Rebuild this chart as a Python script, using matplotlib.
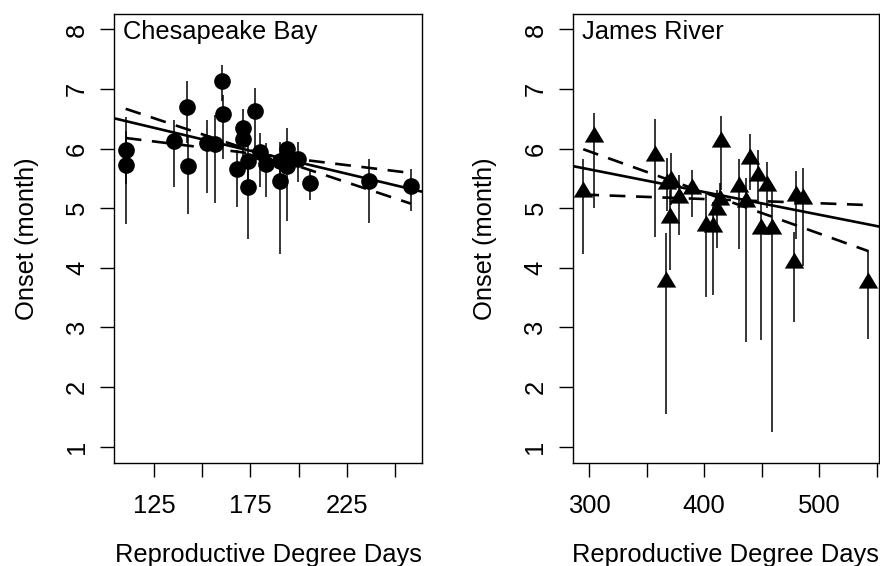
import matplotlib
matplotlib.use("Agg")
import matplotlib.pyplot as plt

plt.rcParams['font.family'] = ['Liberation Sans', 'DejaVu Sans']
plt.rcParams['font.size'] = 18.4

# Chesapeake Bay: degree days, onset month, error bar limits
cb_x = [110.3, 110.3, 135.4, 142.0, 142.8, 152.3, 156.6, 160.5, 160.6, 168.2,
        171.3, 171.3, 173.9, 173.9, 177.4, 180.0, 183.2, 190.4, 190.4, 193.8,
        193.8, 199.9, 205.9, 236.5, 258.3]
cb_y = [5.97, 5.72, 6.13, 6.70, 5.71, 6.09, 6.07, 7.14, 6.59, 5.66,
        6.34, 6.17, 5.79, 5.35, 6.63, 5.95, 5.74, 5.79, 5.46, 6.00,
        5.71, 5.83, 5.43, 5.45, 5.38]
cb_lo = [5.40, 4.73, 5.36, 6.10, 4.91, 5.25, 5.09, 6.80, 5.83, 5.02,
         6.00, 5.80, 5.40, 4.48, 6.00, 5.36, 5.19, 5.50, 4.24, 5.60,
         4.78, 5.44, 5.14, 4.76, 4.96]
cb_hi = [6.53, 6.30, 6.48, 7.13, 6.20, 6.48, 6.56, 7.41, 6.90, 5.97,
         6.67, 6.40, 6.10, 5.70, 7.01, 6.26, 6.09, 6.11, 5.80, 6.35,
         6.00, 6.11, 5.66, 5.82, 5.66]
# fitted line and slope bounds (intercept, slope)
cb_fit = (7.314, -0.00771)
cb_steep = (7.856, -0.01076)
cb_flat = (6.617, -0.00397)

# James River
jr_x = [295.0, 304.3, 357.0, 366.9, 367.5, 370.0, 371.2, 378.5, 389.2, 401.8,
        407.5, 411.2, 413.8, 414.7, 430.3, 436.7, 439.9, 447.1, 449.2, 454.4,
        459.1, 478.3, 479.8, 486.0, 542.7]
jr_y = [5.32, 6.24, 5.92, 3.82, 5.45, 4.88, 5.50, 5.22, 5.37, 4.75,
        4.73, 5.02, 5.19, 6.16, 5.40, 5.15, 5.88, 5.60, 4.71, 5.43,
        4.71, 4.13, 5.26, 5.20, 3.80]
jr_lo = [4.23, 5.00, 4.52, 1.55, 4.95, 3.96, 5.05, 4.55, 4.85, 3.51,
         3.55, 4.33, 4.90, 5.30, 4.31, 2.75, 5.30, 5.10, 2.79, 5.00,
         1.25, 3.09, 4.49, 4.03, 2.81]
jr_hi = [5.82, 6.60, 6.49, 4.58, 5.85, 5.30, 5.92, 5.55, 5.64, 5.25,
         5.10, 5.30, 5.43, 6.55, 5.82, 5.50, 6.25, 5.97, 5.10, 5.77,
         5.40, 4.60, 5.62, 5.67, 4.30]
jr_fit = (6.797, -0.00381)
jr_steep = (8.026, -0.0069)
jr_flat = (5.439, -0.00071)

y_ticks = [1, 2, 3, 4, 5, 6, 7, 8]
cb_xticks = [125, 150, 175, 200, 225, 250]
cb_xlabels = ['125', '', '175', '', '225', '']
jr_xticks = [300, 350, 400, 450, 500, 550]
jr_xlabels = ['300', '', '400', '', '500', '']

tri = [(0, 0.833), (-1, -0.833), (1, -0.833), (0, 0.833)]


def panel(ax, x, y, lo, hi, fit, steep, flat, marker, ms, title,
          xticks, xlabels, xlim):
    ax.vlines(x, lo, hi, color='black', lw=1.1, zorder=2)
    ax.plot(x, y, linestyle='none', marker=marker, ms=ms, color='black',
            markeredgewidth=0, zorder=3)
    ax.axline((0, fit[0]), slope=fit[1], color='black', lw=1.9, zorder=4)
    xs = [min(x), max(x)]
    for b in (steep, flat):
        ax.plot(xs, [b[0] + b[1] * v for v in xs], color='black', lw=1.9,
                linestyle=(0, (6, 4)), zorder=4)
    ax.set_xlim(xlim)
    ax.set_ylim(0.72, 8.26)
    ax.set_xticks(xticks)
    ax.set_xticklabels(xlabels)
    ax.set_yticks(y_ticks)
    for lab in ax.get_yticklabels():
        lab.set_rotation(90)
        lab.set_va('center')
    ax.tick_params(length=10, width=1.0)
    ax.tick_params(axis='x', pad=12)
    ax.tick_params(axis='y', pad=8)
    for s in ax.spines.values():
        s.set_linewidth(1.0)
    ax.set_xlabel('Reproductive Degree Days', labelpad=18)
    ax.set_ylabel('Onset (month)', labelpad=19)
    ax.text(0.03, 0.987, title, transform=ax.transAxes, ha='left', va='top')


fig = plt.figure(figsize=(8.8, 5.66), dpi=100)
ax1 = fig.add_axes([114 / 880, 1 - 463.3 / 566, 308 / 880, 449.3 / 566])
ax2 = fig.add_axes([572.5 / 880, 1 - 463.3 / 566, 306 / 880, 449.3 / 566])

panel(ax1, cb_x, cb_y, cb_lo, cb_hi, cb_fit, cb_steep, cb_flat, 'o', 12,
      'Chesapeake Bay', cb_xticks, cb_xlabels, (104.25, 264.0))
panel(ax2, jr_x, jr_y, jr_lo, jr_hi, jr_fit, jr_steep, jr_flat, tri, 14,
      'James River', jr_xticks, jr_xlabels, (285.66, 551.6))

fig.savefig('out.png', dpi=100)
